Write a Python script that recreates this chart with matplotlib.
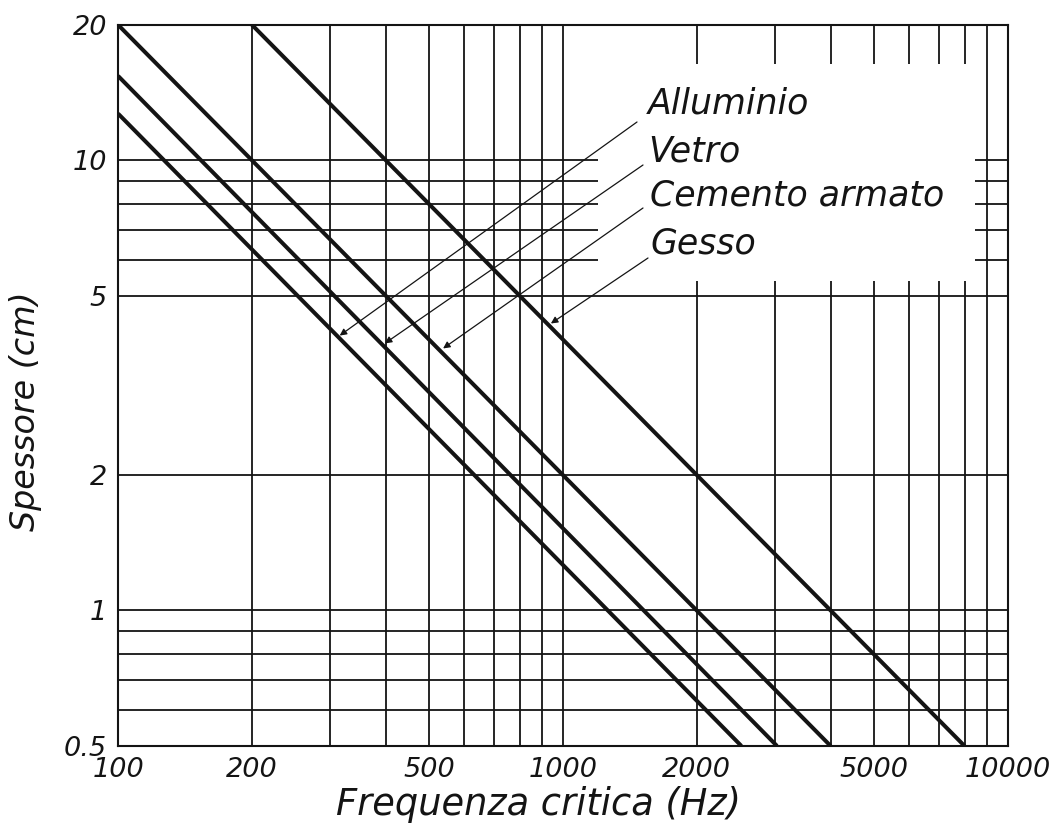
import matplotlib
matplotlib.use("Agg")
import matplotlib.pyplot as plt
from matplotlib.patches import Rectangle

# endpoints of each material line (Hz, cm)
alluminio_f = [100, 2520]
alluminio_t = [12.7, 0.5]
vetro_f = [100, 3030]
vetro_t = [15.4, 0.5]
cemento_f = [100, 4000]
cemento_t = [20, 0.5]
gesso_f = [200, 8000]
gesso_t = [20, 0.5]

materials = ["Alluminio", "Vetro", "Cemento armato", "Gesso"]
# where each leader arrow touches its line
arrow_f = [315, 398, 538, 940]
arrow_t = [4.08, 3.92, 3.82, 4.34]

# grid lines
vgrid = [200, 300, 400, 500, 600, 700, 800, 900, 1000,
         2000, 3000, 4000, 5000, 6000, 7000, 8000, 9000]
hgrid = [0.6, 0.7, 0.8, 0.9, 1, 2, 5, 6, 7, 8, 9, 10]

xticks = [100, 200, 500, 1000, 2000, 5000, 10000]
xticklabels = ["100", "200", "500", "1000", "2000", "5000", "10000"]
yticks = [0.5, 1, 2, 5, 10, 20]
yticklabels = ["0.5", "1", "2", "5", "10", "20"]

ink = "#141414"

fig = plt.figure(figsize=(10.54, 8.27), dpi=100)
ax = fig.add_axes([0.112, 0.098, 0.844, 0.872])
ax.set_xscale("log")
ax.set_yscale("log")
ax.set_xlim(100, 10000)
ax.set_ylim(0.5, 20)

for x in vgrid:
    ax.axvline(x, color=ink, lw=1.3, zorder=1)
for y in hgrid:
    ax.axhline(y, color=ink, lw=1.3, zorder=1)

# blank area behind the labels
ax.add_patch(Rectangle((1200, 5.38), 8430 - 1200, 16.4 - 5.38,
                       facecolor="white", edgecolor="none", zorder=2))

for fx, ty in [(alluminio_f, alluminio_t), (vetro_f, vetro_t),
               (cemento_f, cemento_t), (gesso_f, gesso_t)]:
    ax.plot(fx, ty, color=ink, lw=2.9, zorder=4, solid_capstyle="butt")

# labels and leader arrows (in figure pixels from the top)
label_xy = [(648, 113), (648, 161), (650, 206), (650, 254)]
start_xy = [(637, 122), (643, 165), (643, 208), (648, 258)]
for name, (lx, ly), (sx, sy), fa, ta in zip(materials, label_xy, start_xy,
                                            arrow_f, arrow_t):
    fig.text(lx / 1054, 1 - ly / 827, name, fontsize=25, style="italic",
             color=ink, ha="left", va="baseline")
    ax.annotate("", xy=(fa, ta), xycoords="data",
                xytext=(sx / 1054, 1 - sy / 827), textcoords="figure fraction",
                arrowprops=dict(arrowstyle="-|>", color=ink, lw=0.9,
                                mutation_scale=10, shrinkA=0, shrinkB=0),
                zorder=5)

ax.set_xticks(xticks)
ax.set_xticklabels(xticklabels)
ax.set_yticks(yticks)
ax.set_yticklabels(yticklabels)
ax.minorticks_off()
ax.tick_params(length=0, pad=8, labelsize=19.5, colors=ink)
for lab in ax.get_xticklabels() + ax.get_yticklabels():
    lab.set_style("italic")

for s in ax.spines.values():
    s.set_color(ink)
    s.set_linewidth(1.5)

fig.text(539 / 1054, 1 - 815 / 827, "Frequenza critica (Hz)", fontsize=26.5,
         style="italic", color=ink, ha="center", va="baseline")
fig.text(26 / 1054, 1 - 411 / 827, "Spessore (cm)", fontsize=24,
         style="italic", color=ink, ha="center", va="center", rotation=90)

fig.savefig("out.png", dpi=100, facecolor="white")
